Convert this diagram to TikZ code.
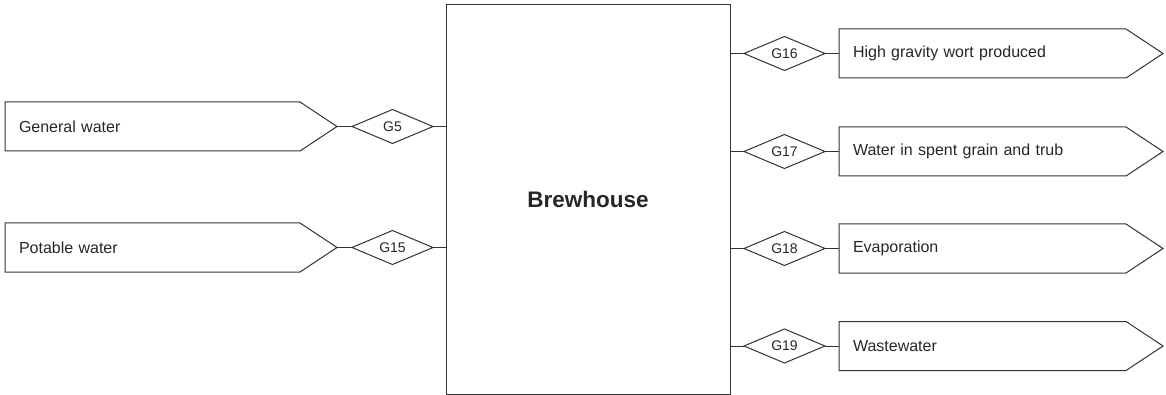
\documentclass[tikz,border=0pt]{standalone}
\usepackage{fontspec}
\setmainfont{Liberation Sans}
\usetikzlibrary{shapes.geometric,shapes.symbols}
\begin{document}
\begin{tikzpicture}[x=1pt,y=-1pt,line width=1pt,
  flow/.style={signal,signal to=east,signal pointer angle=67,draw=black!80,text=black!85,
    minimum height=49pt,inner xsep=14pt,inner ysep=0pt,align=left,anchor=west,outer sep=0pt,
    font=\fontsize{16}{19}\selectfont},
  gate/.style={diamond,draw=black!80,text=black!85,minimum width=81pt,minimum height=34pt,
    inner sep=0pt,aspect=2.4,outer sep=0pt,font=\fontsize{14}{16}\selectfont}]
\useasboundingbox (0,0) rectangle (1166,395);
\node[draw=black!80,text=black!85,minimum width=284pt,minimum height=389pt,inner sep=0pt,
  font=\bfseries\fontsize{22.5}{26}\selectfont] (brew) at (588,199.5) {Brewhouse};
% inputs
\node[flow,text width=267pt] (general) at (5,126.5) {General water};
\node[flow,text width=267pt] (potable) at (5,247.5) {Potable water};
\node[gate] (g5) at (392.5,126.5) {G5};
\node[gate] (g15) at (392.5,247.5) {G15};
\draw[black!80] (general.east) -- (g5.west);
\draw[black!80] (potable.east) -- (g15.west);
\draw[black!80] (g5.east) -- (g5 -| brew.west);
\draw[black!80] (g15.east) -- (g15 -| brew.west);
% outputs
\node[gate] (g16) at (784.5,53.5) {G16};
\node[gate] (g17) at (784.5,151.5) {G17};
\node[gate] (g18) at (784.5,248.5) {G18};
\node[gate] (g19) at (784.5,346) {G19};
\node[flow,text width=259pt] (wort) at (839,53.5) {High gravity wort produced};
\node[flow,text width=259pt] (grain) at (839,151.5) {Water in spent grain and trub};
\node[flow,text width=259pt] (evap) at (839,248.5) {Evaporation};
\node[flow,text width=259pt] (waste) at (839,346) {Wastewater};
\foreach \g/\f in {g16/wort,g17/grain,g18/evap,g19/waste}{
  \draw[black!80] (\g -| brew.east) -- (\g.west);
  \draw[black!80] (\g.east) -- (\f.west);
}
\end{tikzpicture}
\end{document}
